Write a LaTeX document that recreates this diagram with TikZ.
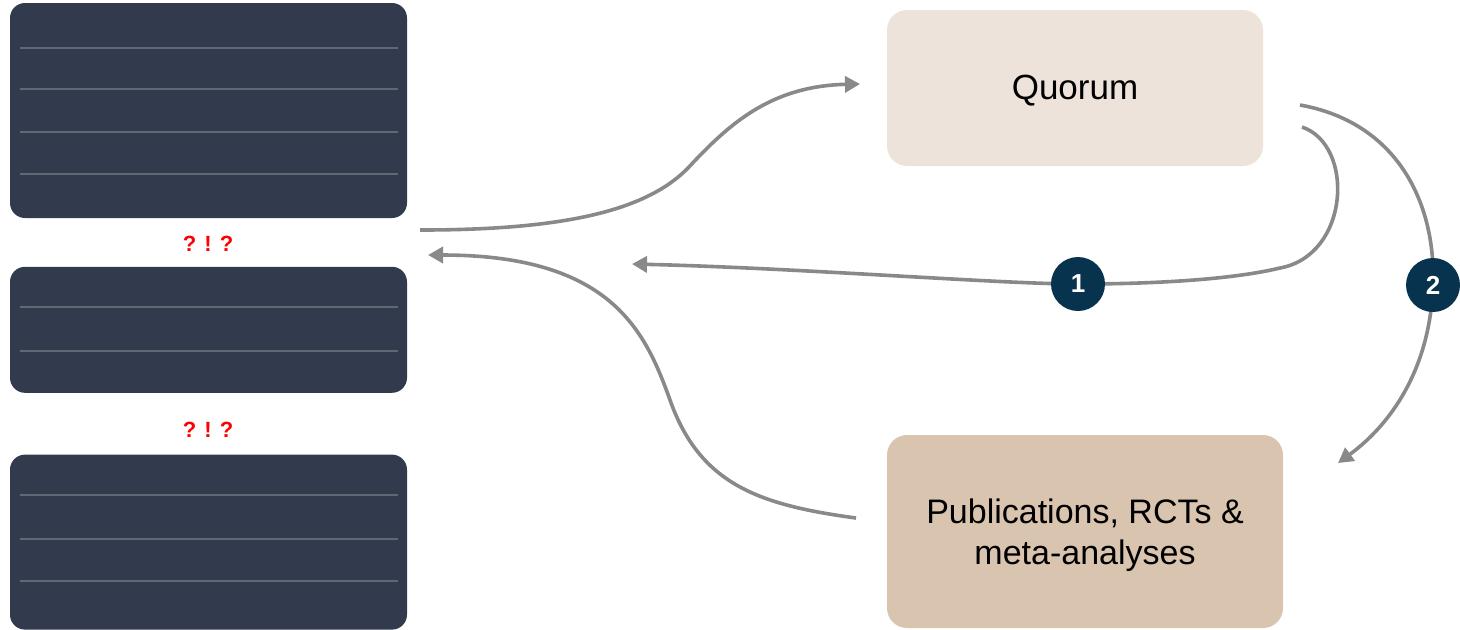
\documentclass[tikz,border=0pt]{standalone}
\usepackage{fontspec}
\setmainfont{Liberation Sans}
\usepackage{xcolor}
\usepackage{tikz}
\usetikzlibrary{positioning,calc,arrows.meta}

\definecolor{slate}{HTML}{323A4D}
\definecolor{rule}{HTML}{5F6974}
\definecolor{sand}{HTML}{EDE3DA}
\definecolor{tan}{HTML}{D9C4B0}
\definecolor{navy}{HTML}{07334F}
\definecolor{wire}{HTML}{898989}

\begin{document}
\begin{tikzpicture}[x=0.5pt,y=-0.5pt,
		card/.style={fill=slate, rounded corners=7.5pt, minimum width=198.5pt, inner sep=0pt},
		tile/.style={rounded corners=10pt, inner sep=0pt, align=center, font=\fontsize{17}{20.5}\selectfont},
		badge/.style={circle, fill=navy, minimum size=27pt, inner sep=0pt, text=white, font=\bfseries\fontsize{13}{13}\selectfont},
		shout/.style={text=red, font=\bfseries\fontsize{11}{11}\selectfont},
		flow/.style={draw=wire, line width=1.8pt, -{Triangle[length=7.5pt,width=8pt]}}]
		\useasboundingbox (0,0) rectangle (1460,629);

		\node[card, minimum height=107.5pt] (a) at (208.5,110.5) {};
		\node[card, minimum height=63pt, below=24pt of a] (b) {};
		\node[card, minimum height=87.5pt, below=30.5pt of b] (c) {};
		\foreach \d in {45,86,129,171}
			\draw[rule, line width=1pt] ($(a.north west)+(10,\d)$) -- ($(a.north east)+(-9,\d)$);
		\foreach \d in {41,85}
			\draw[rule, line width=1pt] ($(b.north west)+(10,\d)$) -- ($(b.north east)+(-9,\d)$);
		\foreach \d in {41,85,127}
			\draw[rule, line width=1pt] ($(c.north west)+(10,\d)$) -- ($(c.north east)+(-9,\d)$);
		\node[shout] (ab) at (208,244) {? ! ?};
		\node[shout] (bc) at (208,430) {? ! ?};

		\node[tile, fill=sand, minimum width=188pt, minimum height=78pt] (quorum) at (1075,88) {};
		\node[tile, font=\fontsize{17.5}{20.5}\selectfont] (qtext) at (1075,91) {Quorum};
		\node[tile, fill=tan, minimum width=198pt, minimum height=96.5pt] (pubs) at (1085,531.5) {};
		\node[tile] (ptext) at (1085,535) {Publications, RCTs \&\\meta-analyses};

		\coordinate (out1) at (420,230);
		\coordinate (in1) at (860,84);
		\coordinate (q1) at (1302,127);
		\coordinate (k1) at (1280,268);
		\coordinate (t1) at (632,264);
		\coordinate (q2) at (1300,105);
		\coordinate (t2) at (1338,463);
		\coordinate (out2) at (856,518);
		\coordinate (in2) at (428,255);
		\coordinate (c1) at (1078,284);
		\coordinate (c2) at (1433,285);

		\draw[flow] (out1) .. controls (560,230) and (645,212) .. (688,168)
			.. controls (728,125) and (770,86) .. (in1);
		\draw[flow] (q1) .. controls (1355,145) and (1350,255) .. (k1)
			.. controls (1230,280) and (1150,284) .. (c1)
			.. controls (1000,284) and (800,268) .. (t1);
		\draw[flow] (q2) .. controls (1395,122) and (1436,200) .. (c2)
			.. controls (1430,370) and (1390,425) .. (t2);
		\draw[flow] (out2) .. controls (760,505) and (700,485) .. (670,400)
			.. controls (645,330) and (610,255) .. (in2);

		\node[badge] (one) at (c1) {1};
		\node[badge] (two) at (c2) {2};
	\end{tikzpicture}
\end{document}
